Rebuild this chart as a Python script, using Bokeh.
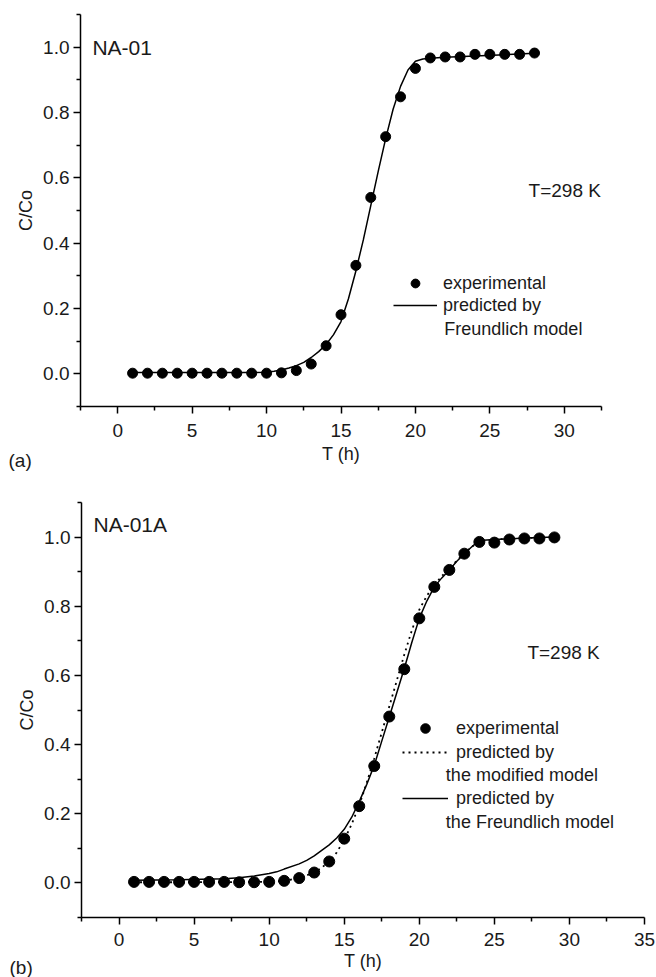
from bokeh.plotting import figure
from bokeh.models import (FixedTicker, Label, Legend, LegendItem, Range1d,
                          PrintfTickFormatter, Title)
from bokeh.layouts import column
from bokeh.embed import file_html
from bokeh.resources import INLINE

# ---------------- data: panel (a) NA-01 ----------------
time_a = list(range(1, 29))
exp_a = [0.002, 0.002, 0.002, 0.002, 0.002, 0.002, 0.002, 0.002, 0.002, 0.002,
         0.003, 0.010, 0.030, 0.086, 0.181, 0.332, 0.540, 0.726, 0.848, 0.935,
         0.967, 0.970, 0.970, 0.978, 0.978, 0.978, 0.978, 0.982]
fit_a_x = [1, 3, 5, 7, 9, 10, 10.5, 11, 11.5, 12, 12.5, 13, 13.5, 14, 14.5, 15,
           15.5, 16, 16.5, 17, 17.5, 18, 18.5, 19, 19.5, 20, 20.5, 21, 22, 24,
           26, 28]
fit_a_y = [0.004, 0.004, 0.004, 0.004, 0.004, 0.005, 0.008, 0.012, 0.018, 0.025,
           0.035, 0.050, 0.068, 0.090, 0.120, 0.160, 0.230, 0.315, 0.410, 0.515,
           0.620, 0.720, 0.810, 0.880, 0.930, 0.957, 0.964, 0.966, 0.969, 0.973,
           0.977, 0.981]

# ---------------- data: panel (b) NA-01A ----------------
time_b = list(range(1, 30))
exp_b = [0.003, 0.003, 0.003, 0.003, 0.003, 0.003, 0.003, 0.002, 0.002, 0.003,
         0.006, 0.014, 0.030, 0.062, 0.128, 0.222, 0.338, 0.481, 0.618, 0.765,
         0.856, 0.905, 0.952, 0.986, 0.984, 0.993, 0.996, 0.996, 0.999]
mod_b_x = [1, 5, 10, 11, 12, 13, 13.5, 14, 14.5, 15, 15.5, 16, 16.5, 17, 17.5,
           18, 18.5, 19, 19.5, 20, 20.5, 21, 21.5, 22, 22.5, 23, 23.5, 24, 25,
           27, 29]
mod_b_y = [0.002, 0.002, 0.003, 0.006, 0.014, 0.030, 0.044, 0.062, 0.088, 0.125,
           0.170, 0.225, 0.290, 0.360, 0.435, 0.510, 0.585, 0.660, 0.730, 0.790,
           0.830, 0.862, 0.887, 0.910, 0.932, 0.953, 0.972, 0.987, 0.993, 0.997,
           1.000]
fr_b_x = [1, 4, 7, 8, 9, 10, 10.5, 11, 12, 12.5, 13, 13.5, 14, 14.5, 15, 15.5,
          16, 16.5, 17, 17.5, 18, 18.5, 19, 19.5, 20, 20.5, 21, 21.5, 22, 22.5,
          23, 23.5, 24, 25, 27, 29]
fr_b_y = [0.008, 0.009, 0.012, 0.015, 0.020, 0.027, 0.032, 0.040, 0.055, 0.065,
          0.078, 0.094, 0.110, 0.130, 0.155, 0.190, 0.235, 0.285, 0.340, 0.410,
          0.480, 0.550, 0.620, 0.695, 0.765, 0.815, 0.856, 0.882, 0.905, 0.930,
          0.952, 0.972, 0.990, 0.993, 0.997, 1.000]

# ---------------- ticks ----------------
y_major = [0.0, 0.2, 0.4, 0.6, 0.8, 1.0]
y_minor = [-0.1, 0.1, 0.3, 0.5, 0.7, 0.9, 1.1]
x_major_a = [0, 5, 10, 15, 20, 25, 30]
x_minor_a = [-2.5, 2.5, 7.5, 12.5, 17.5, 22.5, 27.5, 32.5]
x_major_b = [0, 5, 10, 15, 20, 25, 30, 35]
x_minor_b = [-2.5, 2.5, 7.5, 12.5, 17.5, 22.5, 27.5, 32.5]

FONT = "Liberation Sans"
TXT = "#1a1a1a"


def make_fig(height, xr, xmaj, xmin, bl, br, bt, bb, xl_standoff, xa_standoff):
    p = figure(width=656, height=height, x_range=Range1d(*xr),
               y_range=Range1d(-0.1, 1.1), output_backend="svg",
               toolbar_location=None, min_border_left=bl,
               min_border_right=br, min_border_top=bt, min_border_bottom=bb,
               frame_align=False)
    p.xgrid.visible = False
    p.ygrid.visible = False
    p.outline_line_color = None
    p.background_fill_color = "white"
    p.border_fill_color = "white"
    p.xaxis.ticker = FixedTicker(ticks=xmaj, minor_ticks=xmin)
    p.yaxis.ticker = FixedTicker(ticks=y_major, minor_ticks=y_minor)
    p.yaxis.formatter = PrintfTickFormatter(format="%.1f")
    p.xaxis.axis_label = "T (h)"
    p.yaxis.axis_label = "C/Co"
    for ax in p.axis:
        ax.axis_line_width = 1.5
        ax.axis_line_color = "black"
        ax.major_tick_line_width = 1.5
        ax.minor_tick_line_width = 1.5
        ax.major_tick_line_color = "black"
        ax.minor_tick_line_color = "black"
        ax.major_tick_out = 7
        ax.major_tick_in = 0
        ax.minor_tick_out = 4
        ax.minor_tick_in = 0
        ax.major_label_text_font = FONT
        ax.major_label_text_font_size = "19px"
        ax.major_label_text_color = TXT
        ax.major_label_standoff = 4
        ax.axis_label_text_font = FONT
        ax.axis_label_text_font_size = "18px"
        ax.axis_label_text_font_style = "normal"
        ax.axis_label_text_color = TXT
        ax.axis_label_standoff = 4
    p.xaxis.major_label_standoff = xl_standoff
    p.xaxis.axis_label_standoff = xa_standoff
    return p


def add_text(p, x, y, text, size):
    p.add_layout(Label(x=x, y=y, text=text, text_font=FONT,
                       text_font_size=size, text_color=TXT,
                       text_baseline="middle", text_align="left"))


def make_legend(items, loc, gw, gh, standoff):
    return Legend(items=items, location=loc, glyph_width=gw, glyph_height=gh,
                  label_standoff=standoff, spacing=0, padding=0, margin=0,
                  border_line_color=None, background_fill_alpha=0,
                  label_text_font=FONT, label_text_font_size="18px",
                  label_text_color=TXT, label_height=gh)


def panel_tag(p, text, standoff):
    p.add_layout(Title(text=text, align="left", vertical_align="top",
                       offset=-72, standoff=standoff,
                       text_font=FONT, text_font_size="19px",
                       text_font_style="normal", text_color=TXT), "below")


# ---------------- panel (a) ----------------
pa = make_fig(487, (-2.5, 32.5), x_major_a, x_minor_a, 80, 55, 14, 81, 10, 4)
ra_line = pa.line(fit_a_x, fit_a_y, line_color="black", line_width=1.5)
ra_pts = pa.scatter(time_a, exp_a, marker="circle", size=10,
                    fill_color="black", line_color="black")
pa.add_layout(make_legend(
    [LegendItem(label="experimental", renderers=[ra_pts]),
     LegendItem(label="predicted by", renderers=[ra_line])],
    (313, 90), 44, 22, 6))
add_text(pa, 21.94, 0.137, "Freundlich model", "18px")
add_text(pa, -1.7, 1.0, "NA-01", "21px")
add_text(pa, 27.6, 0.56, "T=298 K", "19px")
panel_tag(pa, "(a)", -34)

# ---------------- panel (b) ----------------
pb = make_fig(490, (-2.5, 35), x_major_b, x_minor_b, 81, 12, 15, 60, 8, 2)
rb_mod = pb.line(mod_b_x, mod_b_y, line_color="black", line_width=1.8,
                 line_dash="2 4")
rb_fr = pb.line(fr_b_x, fr_b_y, line_color="black", line_width=1.5)
rb_pts = pb.scatter(time_b, exp_b, marker="circle", size=11,
                    fill_color="black", line_color="black")
pb.add_layout(make_legend(
    [LegendItem(label="experimental", renderers=[rb_pts]),
     LegendItem(label="predicted by", renderers=[rb_mod])],
    (321, 153), 46, 24, 8))
pb.add_layout(make_legend(
    [LegendItem(label="predicted by", renderers=[rb_fr])],
    (321, 107), 46, 24, 8))
add_text(pb, 21.77, 0.3125, "the modified model", "18px")
add_text(pb, 21.77, 0.176, "the Freundlich model", "18px")
add_text(pb, -1.7, 1.037, "NA-01A", "21px")
add_text(pb, 27.2, 0.666, "T=298 K", "19px")
panel_tag(pb, "(b)", -34)

layout = column(pa, pb, spacing=0)
open("out.html", "w").write(file_html(layout, INLINE))
